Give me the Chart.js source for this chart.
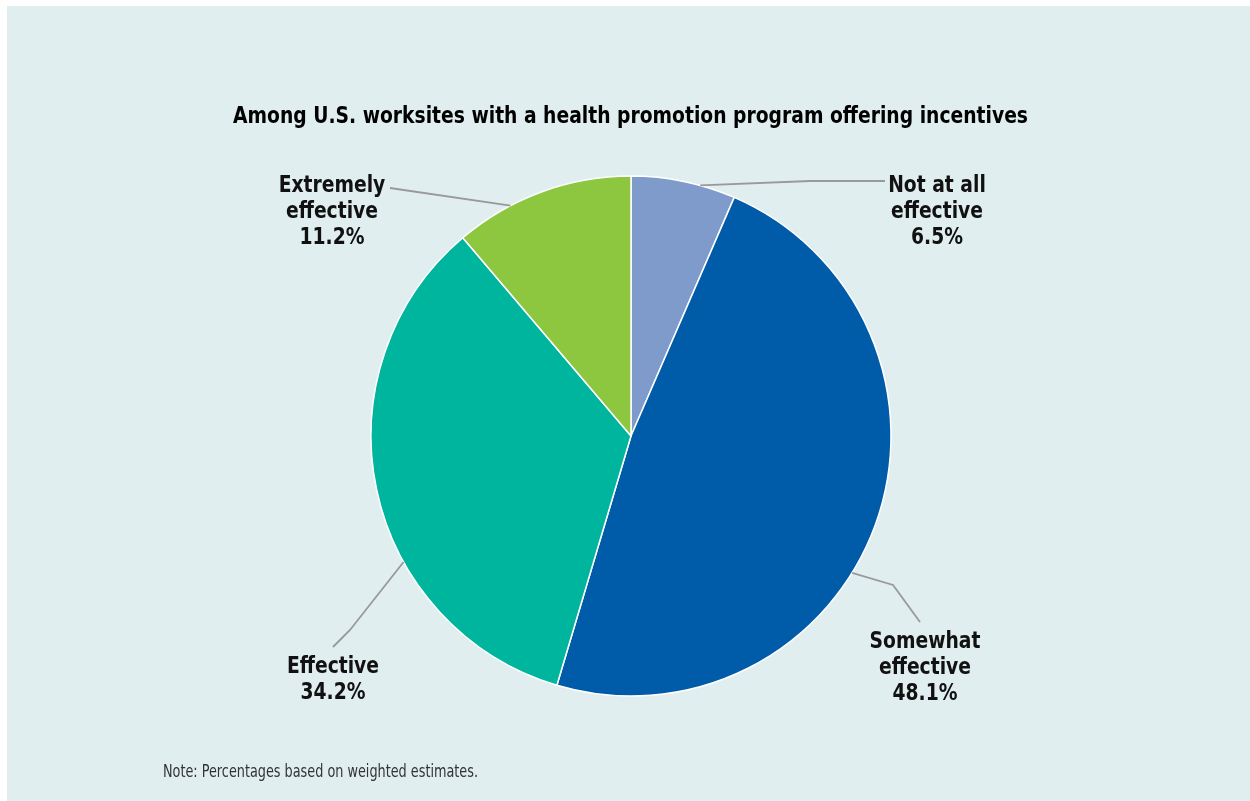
<!DOCTYPE html>
<html>
<head>
<meta charset="utf-8">
<title>Incentive effectiveness</title>
<script src="https://cdn.jsdelivr.net/npm/chart.js@4.4.1/dist/chart.umd.min.js"></script>
<style>
  html, body { margin: 0; padding: 0; background: #e0eef0; overflow: hidden; }
  canvas { display: block; }
</style>
</head>
<body>
<canvas id="effectChart" width="1250" height="801"></canvas>
<script>
// Share of worksites by perceived effectiveness of incentives
const categories = ['Not at all effective', 'Somewhat effective', 'Effective', 'Extremely effective'];
const shares = [6.5, 48.1, 34.2, 11.2];
const labelLines = [['Not at all', 'effective'], ['Somewhat', 'effective'], ['Effective'], ['Extremely', 'effective']];
const sliceColors = ['#7f9bcc', '#005ba8', '#00b59e', '#8dc63f'];

const titleText = 'Among U.S. worksites with a health promotion program offering incentives';
const noteText = 'Note: Percentages based on weighted estimates.';

const panelColor = '#e0eef0';
const boldFont = "'Liberation Sans Narrow', 'DejaVu Sans Condensed', 'Liberation Sans', sans-serif";

// Leader line and label placement for each slice
// frac: where on the slice's outer edge the line starts
const callouts = [
  { frac: 0.66, path: [[810, 181], [885, 181]], x: 937, y: 192 },
  { frac: 0.568, path: [[893, 585], [920, 622]], x: 925, y: 648 },
  { frac: 0.361, path: [[350, 630], [333, 647]], x: 333, y: 673 },
  { frac: 0.315, path: [[390, 188]], x: 332, y: 192 },
];

// draw text squeezed horizontally so condensed type keeps its width
function squeezedText(ctx, text, x, y, sx, align) {
  ctx.save();
  ctx.translate(x, y);
  ctx.scale(sx, 1);
  ctx.textAlign = align;
  ctx.fillText(text, 0, 0);
  ctx.restore();
}

const panelPlugin = {
  id: 'panel',
  beforeDraw(chart) {
    const ctx = chart.ctx;
    ctx.save();
    ctx.fillStyle = '#fff';
    ctx.fillRect(0, 0, chart.width, chart.height);
    ctx.fillStyle = panelColor;
    ctx.fillRect(7, 6, chart.width - 7, chart.height - 6);
    ctx.restore();
  }
};

const calloutPlugin = {
  id: 'callouts',
  afterDatasetsDraw(chart) {
    const ctx = chart.ctx;
    const arcs = chart.getDatasetMeta(0).data;

    ctx.save();
    ctx.textBaseline = 'alphabetic';

    // title
    ctx.font = 'bold 23px ' + boldFont;
    const sx = 795 / ctx.measureText(titleText).width;
    ctx.fillStyle = '#000';
    squeezedText(ctx, titleText, 630.5, 123, sx, 'center');

    // leader lines
    ctx.strokeStyle = '#999999';
    ctx.lineWidth = 1.8;
    arcs.forEach((arc, i) => {
      const c = callouts[i];
      const p = arc.getProps(['x', 'y', 'startAngle', 'endAngle', 'outerRadius'], true);
      const a = p.startAngle + c.frac * (p.endAngle - p.startAngle);
      ctx.beginPath();
      ctx.moveTo(p.x + Math.cos(a) * p.outerRadius, p.y + Math.sin(a) * p.outerRadius);
      c.path.forEach(pt => ctx.lineTo(pt[0], pt[1]));
      ctx.stroke();
    });

    // slice labels
    ctx.fillStyle = '#111';
    categories.forEach((cat, i) => {
      const c = callouts[i];
      const lines = labelLines[i].concat([shares[i].toFixed(1) + '%']);
      lines.forEach((line, j) => {
        squeezedText(ctx, line, c.x, c.y + j * 26, sx, 'center');
      });
    });

    // note
    ctx.font = '17px ' + boldFont;
    const nsx = 315 / ctx.measureText(noteText).width;
    ctx.fillStyle = '#333';
    squeezedText(ctx, noteText, 163, 777, nsx, 'left');
    ctx.restore();
  }
};

new Chart(document.getElementById('effectChart'), {
  type: 'pie',
  data: {
    labels: categories,
    datasets: [{
      data: shares,
      backgroundColor: sliceColors,
      borderColor: '#ffffff',
      borderWidth: 1.5,
      radius: 260,
    }],
  },
  options: {
    responsive: false,
    animation: false,
    events: [],
    layout: {
      padding: { left: 12, top: 71, right: 0, bottom: 0 },
    },
    plugins: {
      legend: { display: false },
      tooltip: { enabled: false },
    },
  },
  plugins: [panelPlugin, calloutPlugin],
});
</script>
</body>
</html>
